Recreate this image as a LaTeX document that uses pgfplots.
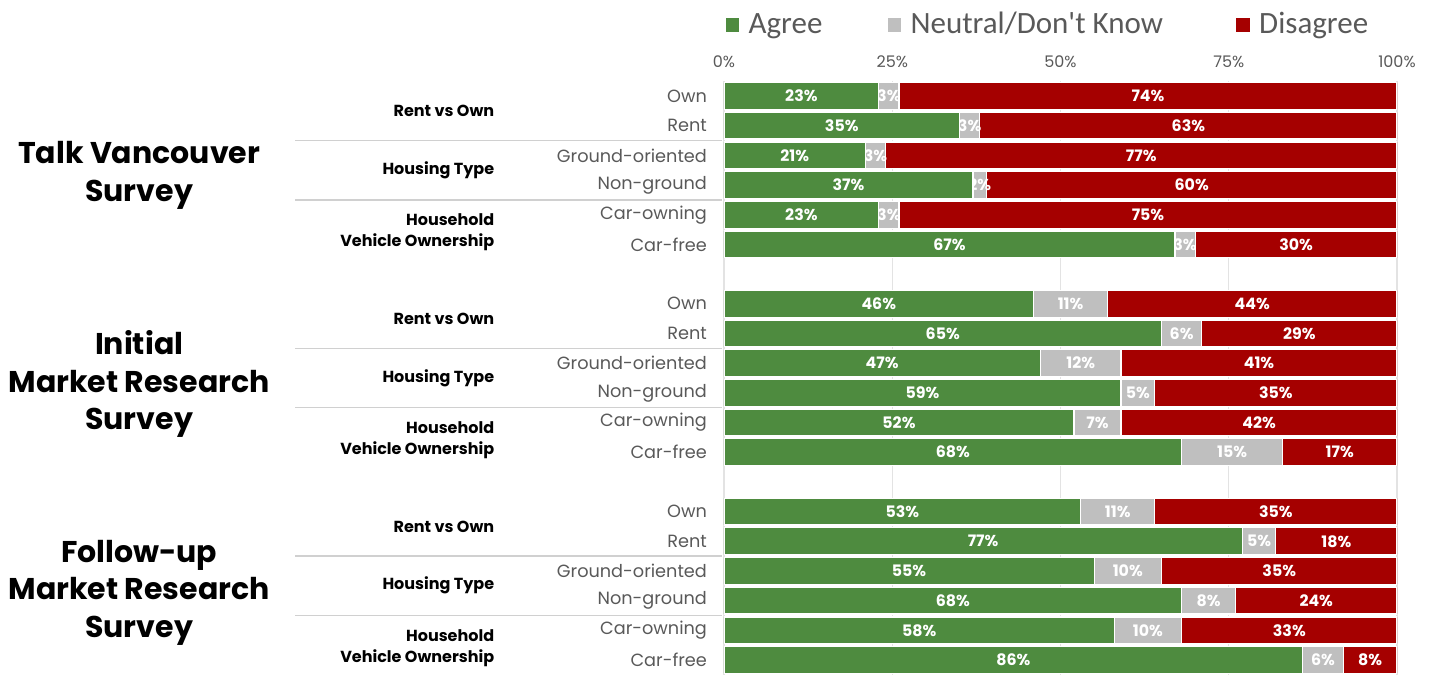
\documentclass[border=0pt]{standalone}
\usepackage{pgfplots}
\pgfplotsset{compat=1.18}
\usepackage{pgfplotstable}
\usepackage{fontspec}
\setmainfont{Poppins}
\newfontfamily\legendfont{Carlito}

\definecolor{agree}{HTML}{4E8B3F}
\definecolor{neutral}{HTML}{BFBFBF}
\definecolor{disagree}{HTML}{A50000}
\definecolor{txtgray}{HTML}{595959}
\definecolor{gridgray}{HTML}{E3E3E3}
\definecolor{sepgray}{HTML}{D0D0D0}

% row = bar position (6 and 13 are the gaps), a/n/d = labels, dbar = length of the red part
\pgfplotstableread{
row a  n  d  dbar
0  23 3  74 74
1  35 3  63 62
2  21 3  77 76
3  37 2  60 61
4  23 3  75 74
5  67 3  30 30
7  46 11 44 43
8  65 6  29 29
9  47 12 41 41
10 59 5  35 36
11 52 7  42 41
12 68 15 17 17
14 53 11 35 36
15 77 5  18 18
16 55 10 35 35
17 68 8  24 24
18 58 10 33 32
19 86 6  8  8
}\survey

% stacked bars already put the labels in the middle of each part
\pgfplotsset{
  seg/.style={
    point meta=explicit,
    nodes near coords={\pgfmathprintnumber{\pgfplotspointmeta}\%},
    every node near coord/.style={anchor=center,
      text=white, font=\bfseries\fontsize{7.9}{9}\selectfont},
  },
}

\begin{document}
\begin{tikzpicture}[x=1pt,y=1pt]
\useasboundingbox (0,0) rectangle (717.5,337.5);
\begin{axis}[
  at={(362pt,0.1pt)}, anchor=south west,
  scale only axis, width=336.5pt, height=296.8pt,
  xbar stacked, bar width=0.9,
  xmin=0, xmax=100, ymin=-0.5, ymax=19.5, y dir=reverse,
  clip mode=individual,
  axis line style={draw=none}, major tick length=0pt,
  xmajorgrids=true, major grid style={draw=gridgray, line width=0.6pt},
  xtick={0,25,50,75,100}, xticklabel pos=upper,
  xticklabel={\pgfmathprintnumber{\tick}\%},
  /pgf/number format/assume math mode=true,
  xticklabel style={anchor=center, yshift=9.6pt, text=txtgray, font=\fontsize{8}{9}\selectfont},
  ytick={0,1,2,3,4,5,7,8,9,10,11,12,14,15,16,17,18,19},
  yticklabels={Own,Rent,Ground-oriented,Non-ground,Car-owning,Car-free,
               Own,Rent,Ground-oriented,Non-ground,Car-owning,Car-free,
               Own,Rent,Ground-oriented,Non-ground,Car-owning,Car-free},
  yticklabel style={text=txtgray, font=\fontsize{8.85}{10}\selectfont, xshift=-5pt},
  legend style={at={(0,1)}, anchor=west, yshift=28.3pt, draw=none, fill=none,
    inner sep=0pt, legend columns=3, font=\legendfont\fontsize{15.5}{18}\selectfont,
    text=txtgray,
    /tikz/every odd column/.style={column sep=2pt},
    /tikz/column 2/.style={column sep=30pt},
    /tikz/column 4/.style={column sep=34pt}},
  legend image code/.code={\fill[#1] (0pt,-3.75pt) rectangle (7.5pt,3.75pt);},
]
\addplot[fill=agree, draw=white, line width=0.6pt, seg]
  table[x=a, y=row, meta=a] {\survey};
\addplot[fill=neutral, draw=white, line width=0.6pt, seg]
  table[x=n, y=row, meta=n] {\survey};
\addplot[fill=disagree, draw=white, line width=0.6pt, seg]
  table[x=dbar, y=row, meta=d] {\survey};
\legend{Agree, Neutral/Don't Know, Disagree}

% separators between sub-groups
\draw[sepgray, line width=0.6pt] (axis cs:-63.7,1.5) -- (axis cs:-0.3,1.5);
\draw[sepgray, line width=0.6pt] (axis cs:-63.7,3.5) -- (axis cs:-0.3,3.5);
\draw[sepgray, line width=0.6pt] (axis cs:-63.7,8.5) -- (axis cs:-0.3,8.5);
\draw[sepgray, line width=0.6pt] (axis cs:-63.7,10.5) -- (axis cs:-0.3,10.5);
\draw[sepgray, line width=0.6pt] (axis cs:-63.7,15.5) -- (axis cs:-0.3,15.5);
\draw[sepgray, line width=0.6pt] (axis cs:-63.7,17.5) -- (axis cs:-0.3,17.5);

% sub-group labels
\tikzset{sub/.style={anchor=east, align=right, font=\bfseries\fontsize{8}{10.5}\selectfont}}
\node[sub] at (axis cs:-33.1,0.5) {Rent vs Own};
\node[sub] at (axis cs:-33.1,2.5) {Housing Type};
\node[sub] at (axis cs:-33.1,4.6) {Household\\Vehicle Ownership};
\node[sub] at (axis cs:-33.1,7.5) {Rent vs Own};
\node[sub] at (axis cs:-33.1,9.5) {Housing Type};
\node[sub] at (axis cs:-33.1,11.6) {Household\\Vehicle Ownership};
\node[sub] at (axis cs:-33.1,14.5) {Rent vs Own};
\node[sub] at (axis cs:-33.1,16.5) {Housing Type};
\node[sub] at (axis cs:-33.1,18.6) {Household\\Vehicle Ownership};

% survey labels
\tikzset{grp/.style={align=center, font=\bfseries\fontsize{15}{18.75}\selectfont}}
\node[grp] at (axis cs:-86.9,2.67) {Talk Vancouver\\Survey};
\node[grp] at (axis cs:-86.9,9.71) {Initial\\Market Research\\Survey};
\node[grp] at (axis cs:-86.9,16.73) {Follow-up\\Market Research\\Survey};
\end{axis}
\end{tikzpicture}
\end{document}
